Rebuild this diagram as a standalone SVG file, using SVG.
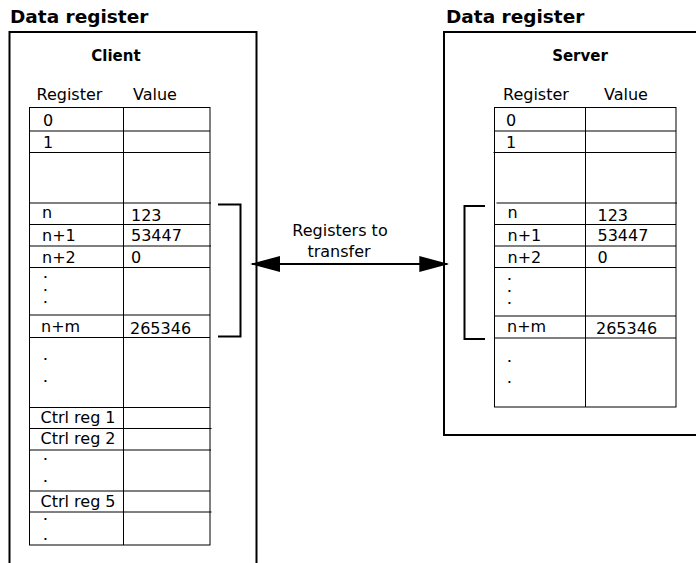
<svg xmlns="http://www.w3.org/2000/svg" width="696" height="563" viewBox="0 0 696 563">
<style>
.title{font-family:"DejaVu Sans",sans-serif;font-weight:bold;font-size:18.5px;fill:#000}
.head{font-family:"DejaVu Sans",sans-serif;font-weight:bold;font-size:15px;fill:#000}
.t{font-family:"DejaVu Sans",sans-serif;font-size:16px;fill:#000}
.d{font-family:"DejaVu Sans",sans-serif;font-size:10px;font-weight:bold;fill:#000}
.box{fill:none;stroke:#000;stroke-width:2}
.grid{fill:none;stroke:#000;stroke-width:1}
.br{fill:none;stroke:#000;stroke-width:2}
</style>
<defs>
<marker id="ah" viewBox="0 0 30 16" refX="28" refY="8" markerWidth="30" markerHeight="16" markerUnits="userSpaceOnUse" orient="auto-start-reverse">
<path d="M0,0 L30,8 L0,16 Z" fill="#000"/>
</marker>
</defs>
<rect width="696" height="563" fill="#fff"/>

<g id="client">
<text class="title" x="10" y="23">Data register</text>
<path class="box" d="M9.5,570 V32 H256.5 V570"/>
<text class="head" x="116" y="61" text-anchor="middle">Client</text>
<text class="t" x="36.5" y="100">Register</text>
<text class="t" x="133" y="100">Value</text>
<rect class="grid" x="29.5" y="107.5" width="180.5" height="437.5"/>
<path class="grid" d="M123.5,107.5 V545 M29.5,131 H210 M29.5,152.5 H210 M29.5,203 H211 M29.5,224.5 H210 M29.5,246 H211 M29.5,267.5 H210 M29.5,315 H210 M29.5,337.5 H210 M29.5,407.5 H210 M29.5,428.5 H211.5 M29.5,450 H211 M29.5,491 H210 M29.5,512 H211.5"/>
<text class="t" x="43" y="126">0</text>
<text class="t" x="43" y="148">1</text>
<text class="t" x="42" y="217.5">n</text>
<text class="t" x="131" y="221">123</text>
<text class="t" x="42" y="241">n+1</text>
<text class="t" x="131" y="241">53447</text>
<text class="t" x="42" y="263">n+2</text>
<text class="t" x="131" y="263">0</text>
<text class="d"><tspan x="43.5" y="278">.</tspan><tspan x="43.5" y="290.5">.</tspan><tspan x="43.5" y="303">.</tspan></text>
<text class="t" x="41" y="331.5">n+m</text>
<text class="t" x="130" y="334">265346</text>
<text class="d"><tspan x="43.5" y="359.5">.</tspan><tspan x="43.5" y="381.5">.</tspan></text>
<text class="t" x="40.5" y="423">Ctrl reg 1</text>
<text class="t" x="40.5" y="444">Ctrl reg 2</text>
<text class="d"><tspan x="43.5" y="459.5">.</tspan><tspan x="43.5" y="481.5">.</tspan></text>
<text class="t" x="40.5" y="506.5">Ctrl reg 5</text>
<text class="d"><tspan x="43.5" y="519.5">.</tspan><tspan x="43.5" y="539.5">.</tspan></text>
</g>

<g id="server">
<text class="title" x="446" y="23">Data register</text>
<rect class="box" x="444" y="32" width="270" height="403"/>
<text class="head" x="580" y="61" text-anchor="middle">Server</text>
<text class="t" x="503" y="100">Register</text>
<text class="t" x="604" y="100">Value</text>
<rect class="grid" x="494.5" y="107.5" width="181.5" height="299.5"/>
<path class="grid" d="M585.5,107.5 V407 M494.5,131 H676 M493.5,152.5 H676 M496.5,203 H677 M494.5,224.5 H676 M494.5,246 H676 M494.5,267.5 H676 M494.5,316 H676 M494.5,338 H676"/>
<text class="t" x="506" y="126">0</text>
<text class="t" x="506" y="148">1</text>
<text class="t" x="507.5" y="217.5">n</text>
<text class="t" x="597.5" y="221">123</text>
<text class="t" x="507.5" y="241">n+1</text>
<text class="t" x="597.5" y="241">53447</text>
<text class="t" x="507.5" y="263">n+2</text>
<text class="t" x="597.5" y="263">0</text>
<text class="d"><tspan x="507.5" y="279.5">.</tspan><tspan x="507.5" y="291.5">.</tspan><tspan x="507.5" y="303.5">.</tspan></text>
<text class="t" x="507" y="331.5">n+m</text>
<text class="t" x="596" y="333.5">265346</text>
<text class="d"><tspan x="507.5" y="361.5">.</tspan><tspan x="507.5" y="383">.</tspan></text>
</g>

<g id="connectors">
<path class="br" d="M218,204.5 H240.5 V336.5 H218"/>
<path class="br" d="M485,206 H464.5 V339 H485"/>
<line x1="252" y1="264" x2="447.3" y2="264" stroke="#000" stroke-width="2" marker-start="url(#ah)" marker-end="url(#ah)"/>
<text class="t" x="340" y="236" text-anchor="middle">Registers to</text>
<text class="t" x="339" y="256.5" text-anchor="middle">transfer</text>
</g>
</svg>
